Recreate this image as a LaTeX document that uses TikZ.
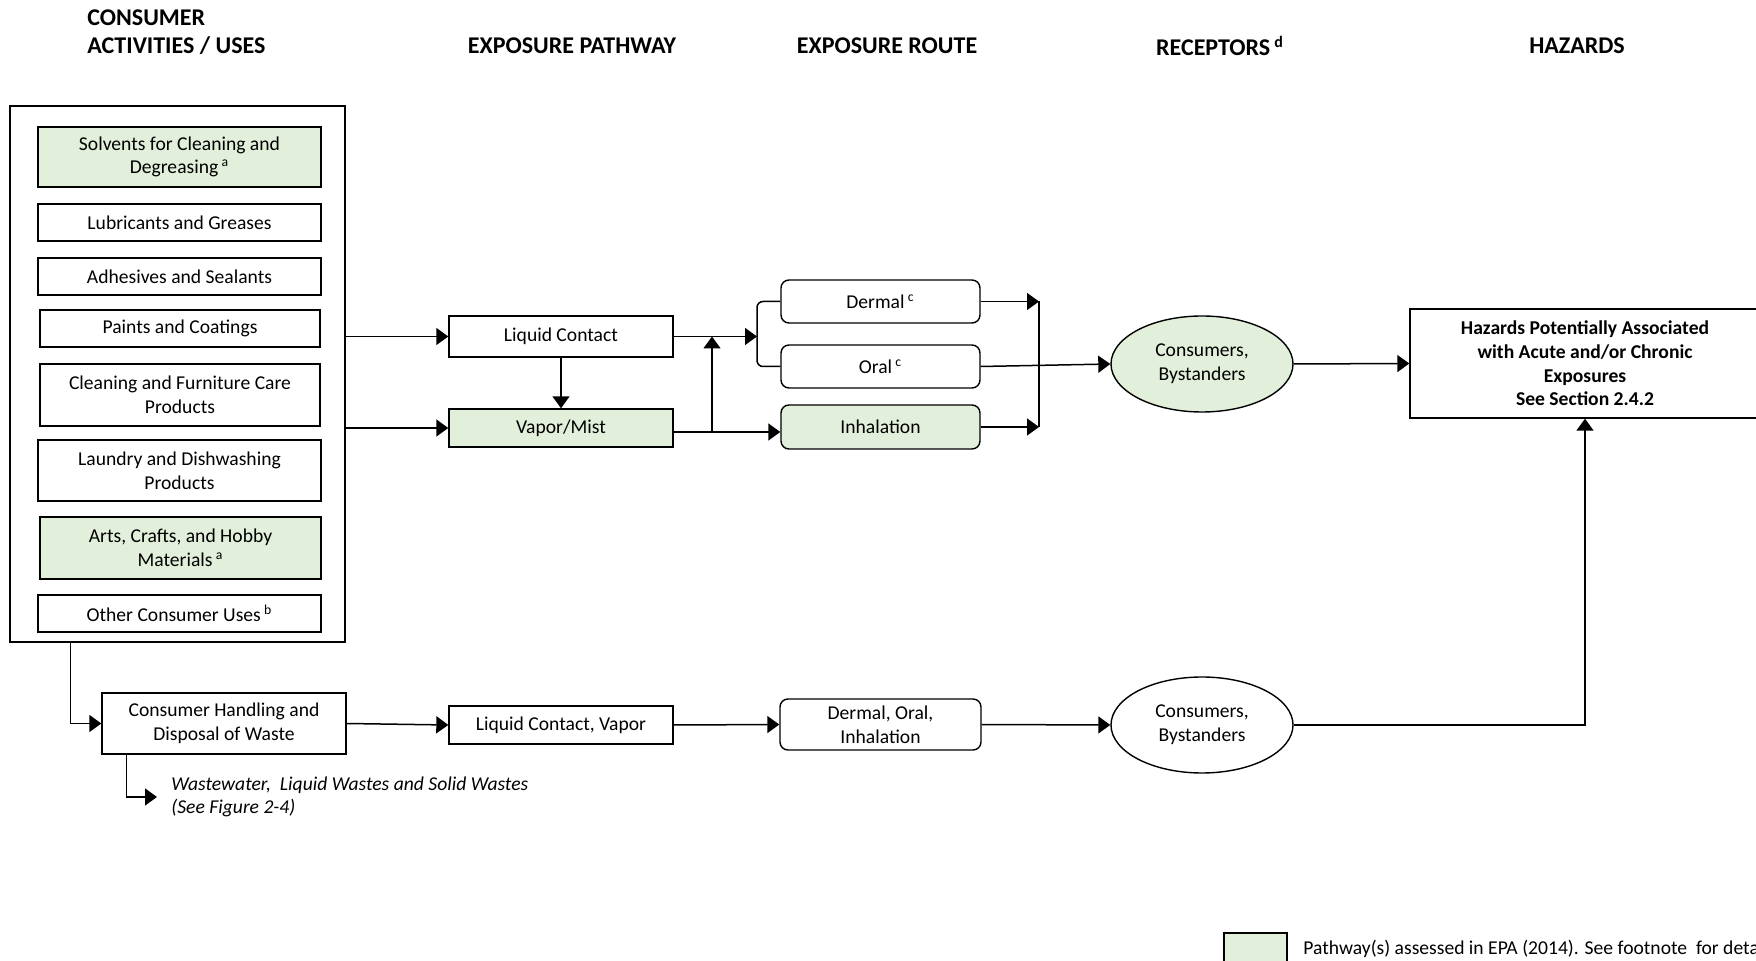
\documentclass[tikz,border=0pt]{standalone}
\usepackage{fontspec}
\setmainfont{Carlito}
\usetikzlibrary{arrows.meta,shapes.geometric}
\definecolor{pgreen}{RGB}{226,239,218}
\begin{document}
\begin{tikzpicture}[x=0.5pt,y=-0.5pt,
  every node/.style={font=\fontsize{9.8}{11.8}\selectfont, text=black},
  box/.style={draw, line width=0.7pt, align=center, inner sep=0pt},
  gbox/.style={box, fill=pgreen},
  rbox/.style={box, rounded corners=4pt},
  ell/.style={draw, ellipse, line width=0.7pt, align=center, inner sep=0pt, minimum width=91pt, minimum height=48pt},
  title/.style={font=\fontsize{12}{14}\selectfont\bfseries, inner sep=0pt},
  arr/.style={line width=0.75pt, -{Triangle[length=6pt,width=8.5pt]}},
  ln/.style={line width=0.75pt}]
\useasboundingbox (0,0) rectangle (1756,961);
\clip (0,0) rectangle (1756,961);

% titles
\node[title, anchor=west, align=left] (t1) at (87,32) {CONSUMER\\ACTIVITIES / USES};
\node[title] (t2) at (572,46) {EXPOSURE PATHWAY};
\node[title] (t3) at (887,46) {EXPOSURE ROUTE};
\node[title] (t4) at (1220,46) {RECEPTORS\,\textsuperscript{d}};
\node[title] (t5) at (1577,46) {HAZARDS};

% consumer uses
\node[box, minimum width=167.5pt, minimum height=268pt] (outer) at (177.5,374) {};
\node[gbox, minimum width=141.5pt, minimum height=30pt] (solv) at (179.5,157) {Solvents for Cleaning and\\Degreasing\,\textsuperscript{a}};
\node[box, minimum width=141.5pt, minimum height=18.5pt] (lub) at (179.5,222.5) {Lubricants and Greases};
\node[box, minimum width=141.5pt, minimum height=18.5pt] (adh) at (179.5,276.5) {Adhesives and Sealants};
\node[box, minimum width=140pt, minimum height=18.5pt] (paint) at (180,328.5) {Paints and Coatings};
\node[box, minimum width=140pt, minimum height=31pt] (clean) at (180,395) {Cleaning and Furniture Care\\Products};
\node[box, minimum width=141.5pt, minimum height=30.5pt] (laun) at (179.5,470.5) {Laundry and Dishwashing\\Products};
\node[gbox, minimum width=140.5pt, minimum height=31pt] (arts) at (180.5,548) {Arts, Crafts, and Hobby\\Materials\,\textsuperscript{a}};
\node[box, minimum width=141.5pt, minimum height=18.5pt] (other) at (179.5,613.5) {Other Consumer Uses\,\textsuperscript{b}};

% pathways
\node[box, minimum width=112pt, minimum height=20.5pt] (lc) at (561,336.5) {Liquid Contact};
\node[gbox, minimum width=112pt, minimum height=19pt] (vm) at (561,428) {Vapor/Mist};

% routes
\node[rbox, minimum width=99.5pt, minimum height=21.5pt] (derm) at (880.5,301.5) {Dermal\,\textsuperscript{c}};
\node[rbox, minimum width=99.5pt, minimum height=21.5pt] (oral) at (880.5,366.5) {Oral\,\textsuperscript{c}};
\node[rbox, fill=pgreen, minimum width=99.5pt, minimum height=22pt] (inh) at (880.5,427) {Inhalation};

% receptors, hazards
\node[ell, fill=pgreen] (ell1) at (1202,364) {Consumers,\\Bystanders};
\node[box, font=\fontsize{9.8}{11.8}\selectfont\bfseries, minimum width=175pt, minimum height=54.5pt] (haz) at (1585,363.5) {Hazards Potentially Associated\\with Acute and/or Chronic\\Exposures\\See Section 2.4.2};

% bottom row
\node[box, minimum width=122pt, minimum height=30.5pt] (ch) at (224,723.5) {Consumer Handling and\\Disposal of Waste};
\node[box, minimum width=112pt, minimum height=19pt] (lcv) at (561,725) {Liquid Contact, Vapor};
\node[rbox, minimum width=100.5pt, minimum height=25.5pt] (doi) at (880.5,724.5) {Dermal, Oral,\\Inhalation};
\node[ell] (ell2) at (1202,725) {Consumers,\\Bystanders};
\node[anchor=west, inner sep=0pt, align=left, font=\fontsize{9.8}{11.8}\selectfont\itshape] (waste) at (171,797) {Wastewater,\ \ Liquid Wastes and Solid Wastes\\(See Figure 2-4)};
\coordinate (wtip) at (157,797);

% legend
\node[gbox, minimum width=31.5pt, minimum height=16pt] (leg) at (1255.5,949) {};
\node[anchor=west, inner sep=0pt] (legt) at (1303,949) {Pathway(s) assessed in EPA (2014). See footnote\ \ for details};

% connectors
\draw[arr] (outer.east |- lc) -- (lc.west);
\draw[arr] (outer.east |- vm) -- (vm.west);
\draw[arr] (lc.south) -- (vm.north);
\coordinate (brk) at (757,336.5);
\draw[ln, rounded corners=3pt] (derm.west) -| (brk) |- (oral.west);
\draw[arr] (lc.east) -- (brk);
\draw[arr] ([yshift=-2pt]vm.east) -- ([yshift=-2pt]vm.east -| inh.west);
\coordinate (vup) at (712,432);
\draw[arr] (vup) -- (vup |- lc.east);
\coordinate (rbar) at (1039,364);
\draw[arr] (derm.east) -- (derm.east -| rbar);
\draw[arr] (inh.east) -- (inh.east -| rbar);
\draw[ln] (derm.east -| rbar) -- (inh.east -| rbar);
\draw[arr] (oral.east) -- (ell1.west);
\draw[arr] (ell1.east) -- (haz.west);

\draw[arr] ([xshift=30.5pt]outer.south west) |- (ch.west);
\draw[arr] (ch.east) -- (lcv.west);
\draw[arr] (lcv.east) -- (doi.west);
\draw[arr] (doi.east) -- (ell2.west);
\draw[arr] (ell2.east) -| (haz.south);
\draw[arr] ([xshift=12.5pt]ch.south west) |- (wtip);
\end{tikzpicture}
\end{document}
